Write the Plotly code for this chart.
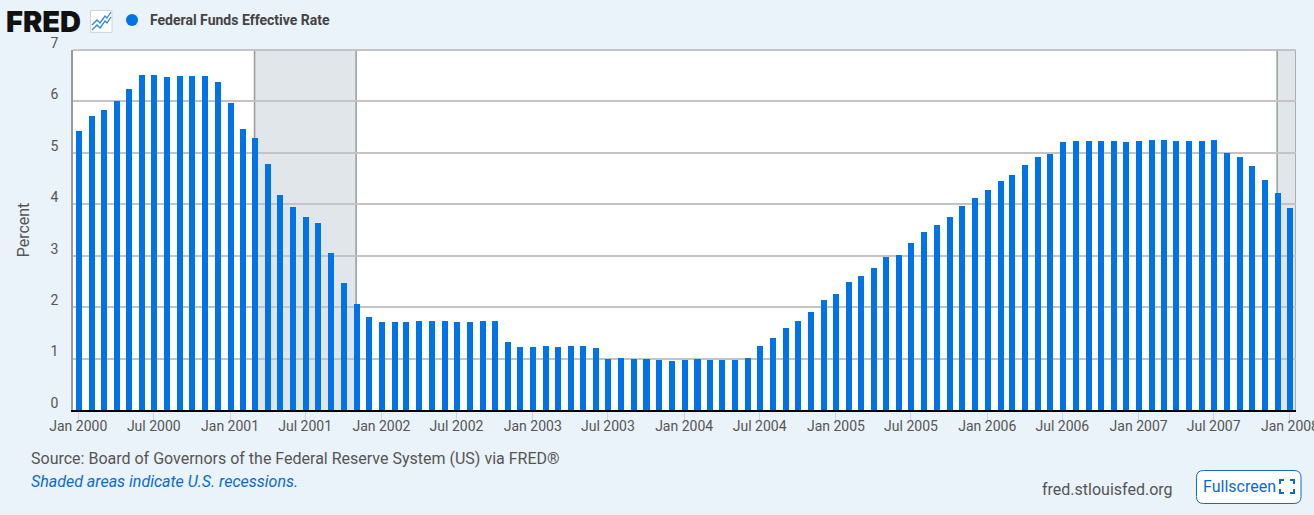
import plotly.graph_objects as go

series_name = "Federal Funds Effective Rate"
months = [f"{y}-{m:02d}-01" for y in range(2000, 2008) for m in range(1, 13)] + ["2008-01-01"]
fed_funds = [
    5.43, 5.72, 5.84, 6.01, 6.25, 6.52, 6.52, 6.48, 6.50, 6.50, 6.50, 6.38,
    5.97, 5.47, 5.29, 4.79, 4.19, 3.94, 3.75, 3.63, 3.05, 2.47, 2.06, 1.81,
    1.71, 1.71, 1.71, 1.73, 1.73, 1.73, 1.71, 1.71, 1.73, 1.73, 1.32, 1.22,
    1.22, 1.24, 1.22, 1.24, 1.24, 1.20, 0.99, 1.01, 0.99, 0.99, 0.97, 0.95,
    0.97, 0.99, 0.97, 0.97, 0.97, 1.01, 1.24, 1.40, 1.59, 1.74, 1.90, 2.13,
    2.25, 2.48, 2.60, 2.76, 2.97, 3.01, 3.24, 3.47, 3.60, 3.75, 3.97, 4.13,
    4.27, 4.46, 4.57, 4.76, 4.91, 4.97, 5.21, 5.23, 5.23, 5.23, 5.23, 5.21,
    5.23, 5.25, 5.25, 5.23, 5.23, 5.23, 5.25, 5.00, 4.92, 4.74, 4.47, 4.22,
    3.92,
]
recession_starts = ["2001-03-01", "2007-12-01"]
recession_ends = ["2001-11-01", "2008-01-15 12:00"]
x_range = ["1999-12-19 05:00", "2008-01-15 12:00"]

W, H = 1314, 515
L, R, T, B = 73, 1296, 50, 410
px = lambda x: (x - L) / (R - L)
py = lambda y: (B - y) / (B - T)
BLUE = "#0073e6"
TXT = "#555555"
LINK = "#0a6bd0"
GRID = "#c4c4c4"
DAY_MS = 86400000


def path(*pts, close=False):
    return "M " + " L ".join(f"{px(a):.5f},{py(b):.5f}" for a, b in pts) + (" Z" if close else "")


fig = go.Figure(go.Bar(x=months, y=fed_funds, name=series_name, marker=dict(color=BLUE, line_width=0),
                       width=14.5 * DAY_MS, offset=-6.05 * DAY_MS, showlegend=False))

shapes = []
for s, e in zip(recession_starts, recession_ends):
    shapes.append(dict(type="rect", xref="x", yref="paper", x0=s, x1=e, y0=0, y1=1, layer="below",
                       fillcolor="#e1e6eb", line_width=0))
    for edge in (s, e):
        shapes.append(dict(type="line", xref="x", yref="paper", x0=edge, x1=edge, y0=0, y1=1, layer="below",
                           line=dict(color="#999999", width=1.5)))
# top gridline at the value 7, on the edge of the plot
shapes.append(dict(type="line", xref="paper", yref="paper", x0=0, x1=1, y0=1, y1=1, layer="between",
                   line=dict(color=GRID, width=2)))

# legend dot
shapes.append(dict(type="circle", xref="paper", yref="paper", x0=px(126), x1=px(138), y0=py(26), y1=py(14),
                   fillcolor=BLUE, line_width=0, layer="above"))
# chart icon beside logo
shapes.append(dict(type="rect", xref="paper", yref="paper", x0=px(90.5), x1=px(112), y0=py(32.5), y1=py(10.5),
                   fillcolor="#ffffff", line=dict(color="#cfd6dc", width=1), layer="above"))
shapes.append(dict(type="path", xref="paper", yref="paper",
                   path=path((92, 25), (97, 20), (100, 23), (105, 16), (107, 18), (111, 12)),
                   line=dict(color="#2f86e0", width=1.3), layer="above"))
shapes.append(dict(type="path", xref="paper", yref="paper",
                   path=path((92, 30), (97, 25), (100, 28), (105, 21), (107, 23), (111, 17)),
                   line=dict(color="#2f86e0", width=1.3), layer="above"))
# fullscreen button
x0, x1, y0, y1, r = 1196.5, 1301, 470.5, 503.5, 7
btn = (f"M {px(x0+r):.5f},{py(y0):.5f} L {px(x1-r):.5f},{py(y0):.5f} Q {px(x1):.5f},{py(y0):.5f} {px(x1):.5f},{py(y0+r):.5f} "
       f"L {px(x1):.5f},{py(y1-r):.5f} Q {px(x1):.5f},{py(y1):.5f} {px(x1-r):.5f},{py(y1):.5f} "
       f"L {px(x0+r):.5f},{py(y1):.5f} Q {px(x0):.5f},{py(y1):.5f} {px(x0):.5f},{py(y1-r):.5f} "
       f"L {px(x0):.5f},{py(y0+r):.5f} Q {px(x0):.5f},{py(y0):.5f} {px(x0+r):.5f},{py(y0):.5f} Z")
shapes.append(dict(type="path", xref="paper", yref="paper", path=btn, fillcolor="#ffffff",
                   line=dict(color=LINK, width=1), layer="below"))
for pts in [((1280, 484), (1280, 480), (1284, 480)), ((1290, 480), (1294, 480), (1294, 484)),
            ((1280, 489), (1280, 493), (1284, 493)), ((1290, 493), (1294, 493), (1294, 489))]:
    shapes.append(dict(type="path", xref="paper", yref="paper", path=path(*pts),
                       line=dict(color=LINK, width=2), layer="above"))


def note(text, x, y, size, color=TXT, anchor="left", family="Roboto", weight=None):
    font = dict(family=family, size=size, color=color)
    if weight:
        font["weight"] = weight
    return dict(text=text, xref="paper", yref="paper", x=px(x - 2), y=py(y), xanchor=anchor, yanchor="middle",
                showarrow=False, font=font)


annotations = [
    note("FRED", 6, 21.5, 29, color="#111111", family="Inter", weight=900),
    note(series_name, 149.5, 20, 14, color="#444444", weight=700),
    note("Source: Board of Governors of the Federal Reserve System (US) via FRED®", 30.5, 458, 16),
    note("<i>Shaded areas indicate U.S. recessions.</i>", 30.5, 481, 16, color=LINK),
    note("fred.stlouisfed.org", 1042, 489, 16),
    note("Fullscreen", 1202.5, 486.5, 16, color=LINK),
]

fig.update_layout(
    width=W, height=H, margin=dict(l=L, r=W - R, t=T, b=H - B, pad=0, autoexpand=False),
    paper_bgcolor="#eaf2fa", plot_bgcolor="#ffffff",
    font=dict(family="Roboto", size=14, color=TXT),
    shapes=shapes, annotations=annotations, bargap=0,
    xaxis=dict(type="date", range=x_range, tick0="2000-01-01", dtick="M6", tickformat="%b %Y",
               ticks="outside", ticklen=9, tickwidth=1, tickcolor="#c5d6ea", showgrid=False, automargin=False,
               showline=True, linecolor="#000000", linewidth=2, tickangle=0, ticklabeloverflow="allow",
               ticklabelstandoff=-7),
    yaxis=dict(range=[0, 7], tick0=0, dtick=1, showgrid=True, gridcolor=GRID, gridwidth=2, automargin=False,
               zeroline=False, showline=True, linecolor="#999999", linewidth=1.5, ticks="",
               ticklabelstandoff=10, ticklabelshift=-7,
               title=dict(text="Percent", font=dict(size=16, color=TXT), standoff=17)),
)

fig.write_html("out.html", config=dict(displayModeBar=False),
               post_script="document.body.style.margin='0';document.body.style.overflow='hidden';")
